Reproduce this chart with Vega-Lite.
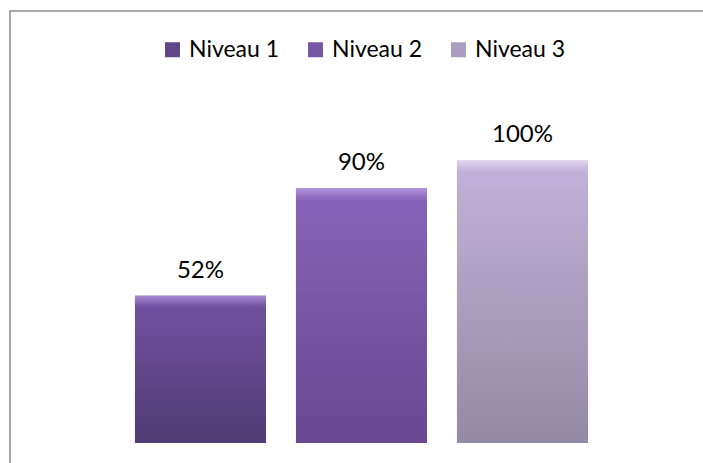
{
  "$schema": "https://vega.github.io/schema/vega-lite/v6.json",
  "width": 699,
  "height": 458,
  "padding": {"left": 10, "top": 11, "right": -6, "bottom": -6},
  "background": "white",
  "config": {"view": {"stroke": "#8a8a8a", "strokeWidth": 1.5}},
  "data": {"values": [
    {"niveau": "Niveau 1", "valeur": 0.52},
    {"niveau": "Niveau 2", "valeur": 0.90},
    {"niveau": "Niveau 3", "valeur": 1.00}
  ]},
  "encoding": {
    "x": {"field": "niveau", "type": "nominal", "axis": null, "sort": null,
          "scale": {"paddingInner": 0.1863, "paddingOuter": 0.764, "align": 0.508}},
    "y": {"field": "valeur", "type": "quantitative", "axis": null,
          "scale": {"domain": [-0.0919, 1.5265], "nice": false, "zero": false}}
  },
  "layer": [
    {
      "mark": {"type": "bar"},
      "encoding": {
        "color": {"field": "niveau", "type": "nominal",
          "scale": {"range": ["#604689", "#7756a4", "#ab9ec0"]},
          "legend": {"orient": "none", "legendX": 151, "legendY": 27, "direction": "horizontal",
            "title": null, "symbolType": "square", "symbolSize": 225, "symbolStrokeWidth": 0,
            "labelFont": "Lato", "labelFontSize": 23, "labelColor": "#000000", "labelOffset": 5,
            "columnPadding": 24, "padding": 0}}
      }
    },
    {
      "transform": [{"filter": "datum.niveau === 'Niveau 1'"}],
      "mark": {"type": "bar", "fill": {"gradient": "linear", "x1": 0, "y1": 0, "x2": 0, "y2": 1,
        "stops": [{"offset": 0, "color": "#a68ad0"}, {"offset": 0.06, "color": "#7a5aaa"}, {"offset": 0.08, "color": "#6f509f"}, {"offset": 1, "color": "#503c74"}]}}
    },
    {
      "transform": [{"filter": "datum.niveau === 'Niveau 2'"}],
      "mark": {"type": "bar", "fill": {"gradient": "linear", "x1": 0, "y1": 0, "x2": 0, "y2": 1,
        "stops": [{"offset": 0, "color": "#b297dc"}, {"offset": 0.035, "color": "#8f6dc0"}, {"offset": 0.05, "color": "#8563b6"}, {"offset": 1, "color": "#684891"}]}}
    },
    {
      "transform": [{"filter": "datum.niveau === 'Niveau 3'"}],
      "mark": {"type": "bar", "fill": {"gradient": "linear", "x1": 0, "y1": 0, "x2": 0, "y2": 1,
        "stops": [{"offset": 0, "color": "#e2d8ee"}, {"offset": 0.03, "color": "#c9b9de"}, {"offset": 0.045, "color": "#c1b0d7"}, {"offset": 1, "color": "#938aa5"}]}}
    },
    {
      "mark": {"type": "text", "dy": -18, "baseline": "alphabetic", "font": "Lato", "fontSize": 24, "color": "#000000"},
      "encoding": {"text": {"field": "valeur", "type": "quantitative", "format": ".0%"}}
    }
  ]
}
